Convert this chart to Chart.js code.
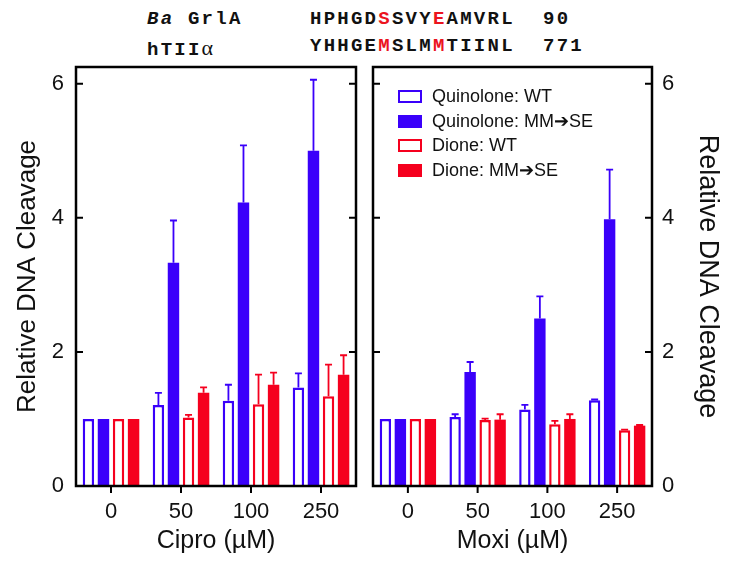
<!DOCTYPE html>
<html>
<head>
<meta charset="utf-8">
<script src="https://cdn.jsdelivr.net/npm/chart.js@4.4.1/dist/chart.umd.min.js"></script>
<style>
  body { margin: 0; background: #fff; }
  #wrap { position: relative; width: 729px; height: 561px; overflow: hidden; font-family: "Liberation Sans", Arial, sans-serif; }
  .cv { position: absolute; top: 60px; height: 501px; }
  #cipro { left: 0; width: 365px; }
  #moxi { left: 365px; width: 364px; }
  .seq { position: absolute; font-family: "Liberation Mono", "Courier New", monospace; font-weight: bold; font-size: 19px; letter-spacing: 2.25px; white-space: pre; color: #111; }
  .seq .r { color: rgb(235, 20, 30); }
  .alpha { font-family: "Liberation Serif", "DejaVu Serif", serif; font-weight: normal; font-size: 22px; letter-spacing: 0; }
  #legend { position: absolute; left: 398px; top: 84px; font-size: 18px; color: #111; }
  #legend div { height: 24.7px; line-height: 24px; white-space: nowrap; }
  #legend span.box { display: inline-block; width: 24px; height: 13px; box-sizing: border-box; vertical-align: -1px; margin-right: 10px; }
</style>
</head>
<body>
<div id="wrap">
  <div class="seq" style="left:147px; top:8px;"><i>Ba</i> GrlA</div>
  <div class="seq" style="left:310px; top:8px;">HPHGD<span class="r">S</span>SVY<span class="r">E</span>AMVRL</div>
  <div class="seq" style="left:543px; top:8px;">90</div>
  <div class="seq" style="left:147px; top:35px;">hTII<span class="alpha">α</span></div>
  <div class="seq" style="left:310px; top:35px;">YHHGE<span class="r">M</span>SLM<span class="r">M</span>TIINL</div>
  <div class="seq" style="left:543px; top:35px;">771</div>
  <canvas id="cipro" class="cv" width="365" height="501"></canvas>
  <canvas id="moxi" class="cv" width="364" height="501"></canvas>
  <div id="legend"></div>
</div>
<script>
const C_BLUE = 'rgb(58, 0, 250)';
const C_RED = 'rgb(245, 0, 30)';

const doses = ['0', '50', '100', '250'];
const yTicks = [0, 2, 4, 6];
const seriesNames = ['Quinolone: WT', 'Quinolone: MM\u2794SE', 'Dione: WT', 'Dione: MM\u2794SE'];

// Cipro panel: means and SD
const ciproQuinWT = [1.0, 1.21, 1.27, 1.47];
const ciproQuinMM = [1.0, 3.33, 4.23, 5.0];
const ciproDioneWT = [1.0, 1.02, 1.22, 1.34];
const ciproDioneMM = [1.0, 1.39, 1.51, 1.66];
const ciproQuinWTsd = [0, 0.18, 0.24, 0.21];
const ciproQuinMMsd = [0, 0.63, 0.85, 1.06];
const ciproDioneWTsd = [0, 0.04, 0.44, 0.47];
const ciproDioneMMsd = [0, 0.08, 0.18, 0.29];

// Moxi panel
const moxiQuinWT = [1.0, 1.03, 1.14, 1.28];
const moxiQuinMM = [1.0, 1.70, 2.50, 3.98];
const moxiDioneWT = [1.0, 0.985, 0.92, 0.83];
const moxiDioneMM = [1.0, 0.99, 1.0, 0.90];
const moxiQuinWTsd = [0, 0.04, 0.07, 0.01];
const moxiQuinMMsd = [0, 0.15, 0.33, 0.74];
const moxiDioneWTsd = [0, 0.02, 0.05, 0.01];
const moxiDioneMMsd = [0, 0.08, 0.07, 0.01];

const FONT = '"Liberation Sans", Arial, sans-serif';

function makeSet(label, data, sd, color, hollow) {
    return {
        label: label,
        data: data,
        sd: sd,
        backgroundColor: hollow ? '#fff' : color,
        borderColor: color,
        borderWidth: hollow ? 2.5 : 0,
        borderSkipped: 'bottom',
    };
}

// error bars drawn above each bar
const errorBars = {
    id: 'errorBars',
    afterDatasetsDraw(chart) {
        const ctx = chart.ctx;
        const y = chart.scales.y;
        chart.data.datasets.forEach((ds, i) => {
            const meta = chart.getDatasetMeta(i);
            meta.data.forEach((bar, j) => {
                const sd = ds.sd[j];
                if (!sd) return;
                const top = y.getPixelForValue(ds.data[j] + sd);
                ctx.save();
                ctx.strokeStyle = ds.borderColor;
                ctx.lineWidth = 1.8;
                ctx.beginPath();
                ctx.moveTo(bar.x, bar.y);
                ctx.lineTo(bar.x, top);
                ctx.moveTo(bar.x - 3.5, top);
                ctx.lineTo(bar.x + 3.5, top);
                ctx.stroke();
                ctx.restore();
            });
        });
    }
};

// box frame with inward y ticks and outward x ticks
const frame = {
    id: 'frame',
    afterDraw(chart) {
        const ctx = chart.ctx;
        const a = chart.chartArea;
        const y = chart.scales.y;
        const x = chart.scales.x;
        ctx.save();
        ctx.strokeStyle = '#000';
        ctx.lineWidth = 2.5;
        ctx.strokeRect(a.left, a.top, a.right - a.left, a.bottom - a.top);
        ctx.lineWidth = 2;
        ctx.beginPath();
        yTicks.forEach(v => {
            const py = y.getPixelForValue(v);
            ctx.moveTo(a.left, py);
            ctx.lineTo(a.left + 7, py);
            ctx.moveTo(a.right, py);
            ctx.lineTo(a.right - 7, py);
        });
        doses.forEach((d, i) => {
            const px = x.getPixelForValue(i);
            ctx.moveTo(px, a.bottom);
            ctx.lineTo(px, a.bottom + 7);
        });
        ctx.stroke();
        ctx.restore();
    }
};

function makeChart(id, title, sets, side) {
    const left = side === 'left';
    return new Chart(document.getElementById(id), {
        type: 'bar',
        data: { labels: doses, datasets: sets },
        options: {
            animation: false,
            responsive: false,
            layout: { padding: { left: left ? 0 : 8, right: left ? 9 : 0, top: 7, bottom: 0 } },
            datasets: { bar: { categoryPercentage: 0.86, barPercentage: 0.76 } },
            plugins: { legend: { display: false }, tooltip: { enabled: false } },
            scales: {
                x: {
                    grid: { display: false },
                    border: { display: false },
                    ticks: { color: '#111', font: { family: FONT, size: 22 }, padding: 5 },
                    title: { display: true, text: title, color: '#111', font: { family: FONT, size: 25 }, padding: { top: 0, bottom: 5 } },
                    afterFit(s) { s.height = 75; s.paddingLeft = 0; s.paddingRight = 0; }
                },
                y: {
                    position: side,
                    min: 0,
                    max: 6.25,
                    grid: { display: false },
                    border: { display: false },
                    afterBuildTicks(s) { s.ticks = yTicks.map(v => ({ value: v })); },
                    ticks: { color: '#111', font: { family: FONT, size: 22 }, padding: left ? 4 : 2 },
                    title: { display: true, text: 'Relative DNA Cleavage', color: '#111', font: { family: FONT, size: left ? 26 : 27 }, padding: { top: left ? 12 : 5, bottom: 0 } },
                    afterFit(s) { s.width = left ? 76 : 77; s.paddingTop = 0; s.paddingBottom = 0; }
                }
            }
        },
        plugins: [errorBars, frame]
    });
}

const ciproChart = makeChart('cipro', 'Cipro (\u00b5M)', [
    makeSet(seriesNames[0], ciproQuinWT, ciproQuinWTsd, C_BLUE, true),
    makeSet(seriesNames[1], ciproQuinMM, ciproQuinMMsd, C_BLUE, false),
    makeSet(seriesNames[2], ciproDioneWT, ciproDioneWTsd, C_RED, true),
    makeSet(seriesNames[3], ciproDioneMM, ciproDioneMMsd, C_RED, false),
], 'left');

const moxiChart = makeChart('moxi', 'Moxi (\u00b5M)', [
    makeSet(seriesNames[0], moxiQuinWT, moxiQuinWTsd, C_BLUE, true),
    makeSet(seriesNames[1], moxiQuinMM, moxiQuinMMsd, C_BLUE, false),
    makeSet(seriesNames[2], moxiDioneWT, moxiDioneWTsd, C_RED, true),
    makeSet(seriesNames[3], moxiDioneMM, moxiDioneMMsd, C_RED, false),
], 'right');

// html legend inside the Moxi panel
const legendEl = document.getElementById('legend');
moxiChart.data.datasets.forEach(ds => {
    const row = document.createElement('div');
    const box = document.createElement('span');
    box.className = 'box';
    box.style.border = '2.5px solid ' + ds.borderColor;
    box.style.background = ds.backgroundColor;
    row.appendChild(box);
    row.appendChild(document.createTextNode(ds.label));
    legendEl.appendChild(row);
});
</script>
</body>
</html>
